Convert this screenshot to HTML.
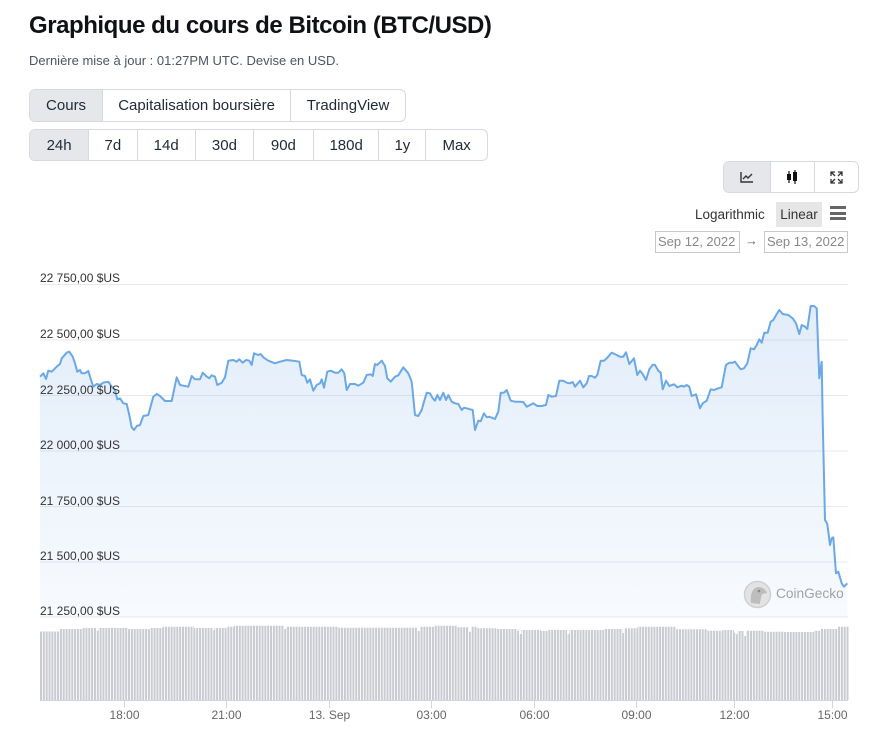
<!DOCTYPE html>
<html><head><meta charset="utf-8"><style>
*{box-sizing:border-box;margin:0;padding:0}
body{width:869px;height:737px;background:#fff;font-family:"Liberation Sans",Arial,sans-serif;position:relative;overflow:hidden;color:#111827}
.abs{position:absolute}
h1{position:absolute;left:29px;top:11px;font-size:24px;font-weight:bold;letter-spacing:-0.45px;color:#0f1115;white-space:nowrap;line-height:30px}
.sub{position:absolute;left:29px;top:52px;font-size:13px;color:#4b5563;white-space:nowrap;line-height:18px}
.grp{position:absolute;border:1px solid #d6d9de;border-radius:6px;overflow:hidden;display:flex;background:#fff}
.grp div{height:100%;display:flex;align-items:center;justify-content:center;font-size:15px;color:#1f2937;border-left:1px solid #d6d9de;white-space:nowrap}
.grp div:first-child{border-left:none}
.grp .on{background:#e5e7eb}
.lbl{position:absolute;font-size:12px;color:#333;white-space:nowrap;line-height:14px}
.tk{position:absolute;font-size:12px;color:#666;white-space:nowrap;line-height:14px;transform:translateX(-50%)}
.date{position:absolute;border:1px solid #c8c8c8;font-size:13px;color:#888;line-height:19px;padding-left:2px;white-space:nowrap}
</style></head><body>
<h1>Graphique du cours de Bitcoin (BTC/USD)</h1>
<div class="sub">Dernière mise à jour : 01:27PM UTC. Devise en USD.</div>

<div class="grp" style="left:29px;top:89px;width:377px;height:33px">
<div class="on" style="width:72.5px">Cours</div>
<div style="width:189px">Capitalisation boursière</div>
<div style="width:115.5px">TradingView</div>
</div>

<div class="grp" style="left:29px;top:129px;width:459px;height:32px">
<div class="on" style="width:58.5px">24h</div>
<div style="width:48.5px">7d</div>
<div style="width:58.5px">14d</div>
<div style="width:58.5px">30d</div>
<div style="width:60px">90d</div>
<div style="width:66px">180d</div>
<div style="width:47px">1y</div>
<div style="width:62px">Max</div>
</div>

<div class="grp" style="left:723px;top:161px;width:136px;height:32px">
<div class="on" style="width:47px"><svg width="14" height="12" viewBox="0 0 14 12"><path d="M1,1 V11 H13" fill="none" stroke="#333" stroke-width="1.4"/><path d="M3,8 L6,5 L8,7 L12,3" fill="none" stroke="#333" stroke-width="1.4"/></svg></div>
<div style="width:44px"><svg width="14" height="16" viewBox="0 0 14 16"><line x1="4" y1="2" x2="4" y2="14" stroke="#111" stroke-width="1.2"/><rect x="2" y="5" width="4" height="6" fill="#111"/><line x1="10" y1="1" x2="10" y2="15" stroke="#111" stroke-width="1.2"/><rect x="8" y="3" width="4" height="9" fill="#111"/></svg></div>
<div style="width:45px"><svg width="13" height="13" viewBox="0 0 13 13" fill="none" stroke="#333" stroke-width="1.3"><path d="M1,5 V1 H5 M1,1 L5,5 M8,1 H12 V5 M12,1 L8,5 M1,8 V12 H5 M1,12 L5,8 M12,8 V12 H8 M12,12 L8,8"/></svg></div>
</div>

<div class="abs" style="left:695px;top:207px;font-size:13.5px;color:#333;line-height:16px">Logarithmic</div>
<div class="abs" style="left:776px;top:202px;width:46px;height:25px;background:#e6e6e6;font-size:13.5px;color:#333;line-height:25px;text-align:center">Linear</div>
<div class="abs" style="left:830px;top:206px;width:16px;height:3px;background:#666"></div>
<div class="abs" style="left:830px;top:211.5px;width:16px;height:3px;background:#666"></div>
<div class="abs" style="left:830px;top:217px;width:16px;height:3px;background:#666"></div>

<div class="date" style="left:655px;top:231px;width:85px;height:22px">Sep 12, 2022</div>
<div class="abs" style="left:745px;top:233px;font-size:13px;color:#666">→</div>
<div class="date" style="left:764px;top:231px;width:84px;height:22px">Sep 13, 2022</div>

<svg class="abs" style="left:0;top:0" width="869" height="737" viewBox="0 0 869 737">
<defs>
<linearGradient id="fg" x1="0" y1="300" x2="0" y2="617" gradientUnits="userSpaceOnUse">
<stop offset="0" stop-color="#6aa3e6" stop-opacity="0.2"/>
<stop offset="1" stop-color="#6aa3e6" stop-opacity="0.05"/>
</linearGradient>
<clipPath id="vc"><path d="M40,700 V631.5 H59.5 V629 H82.5 V628 H96.5 V630.7 H98.5 V628 H127.5 V629 H150.5 V628 H162.5 V626.7 H194 V628 H212.5 V630 H214.5 V628 H227.5 V626.7 H234 V625.7 H284 V629 H286 V626.7 H337.5 V627.7 H417.5 V631 H420 V626.7 H434 V625.7 H457.5 V627.3 H469 V631.7 H471 V626.7 H477.5 V628.3 H497.5 V629 H517.5 V630.7 H519 V634 H521.5 V630 H541 V631 H547.5 V630 H567 V634 H569.5 V630 H604 V629 H622.5 V633 H624 V628.3 H637.5 V626.7 H676 V629.3 H707.5 V630.7 H722.5 V630 H734 V632.7 H736 V634.3 H737.5 V631 H744 V636 H746 V630.7 H764 V631.7 H784 V632 H814 V630.7 H821 V629 H837.5 V626.7 H848.5 V700 Z"/></clipPath>
</defs>
<g stroke="#e9e9ec" stroke-width="1">
<line x1="40" y1="284.5" x2="848" y2="284.5"/>
<line x1="40" y1="340" x2="848" y2="340"/>
<line x1="40" y1="395.5" x2="848" y2="395.5"/>
<line x1="40" y1="451" x2="848" y2="451"/>
<line x1="40" y1="506.5" x2="848" y2="506.5"/>
<line x1="40" y1="562" x2="848" y2="562"/>
<line x1="40" y1="617" x2="848" y2="617"/>
</g>
<polygon fill="url(#fg)" points="40,376.7 43.3,373.3 46,379 48.3,370.7 51.7,371.7 56.7,366.7 60,364 61.7,358.3 66.7,352.7 69.3,351.7 72.7,356.7 75,363.3 77.3,371.7 80,370 81.7,373.3 85,373.3 88.3,371 90,376.7 93.3,386.7 96.7,384 100,385 103.3,382.7 108.3,381.7 111.7,386.7 115,390 117.3,399.3 120,398.3 123.3,403.3 126.7,404 129.3,415 131.7,427.3 134,430 136.7,426 140,425 143.3,416 148.3,415 153.3,396.7 156.7,394 160,396 165,401 171.7,401 176.7,377.3 180,385 183.3,385.7 188.3,386.7 191.7,376 195,379.3 200,379.3 202.7,372.7 206,376 209.3,378.3 211.7,375.3 215,376.7 217.3,385 221.7,382.7 225,377.3 228.3,360.7 233.3,360 236.7,361.7 239.3,359.3 242.7,362.7 246,360 249.3,360.7 251.7,365 254,353.3 258.3,355 260.7,354 263.3,357.3 268.3,360.7 275,363.3 280,361.7 286.7,360 293.3,360.7 299.3,361.7 301.7,375 305,376 307.3,382.7 310,379.3 313.3,390.7 316.7,385 320,383.3 321.7,379.3 324,387.7 327.3,371.7 330.7,370.7 335,372.7 338.3,372.7 341.7,369.3 344.3,373.3 346.7,390 350,384 355,384 358.3,385.7 363.3,382.7 366.7,375 370.7,374.3 372.7,376 375,364 377.3,365 381.7,360.7 385,366 387.3,378.3 390.7,381.7 395,376.7 398.3,375.3 403.3,367.3 408.3,373.3 411.7,381.7 415,415 418.3,416 421.7,410 424,401.7 426.7,392.7 430,393.3 432.7,398.3 435,400.7 437.3,395 440,400 443.3,392.7 446,400 448.3,395 451.7,401.7 455,403.3 458.3,404 461.7,410 464,407.7 466.7,408.3 470,409.3 472.7,410 475,430 478.3,420.7 480.7,421.3 484,413.3 486.7,417.3 489.3,416.7 495,419 498.3,411.7 500.7,392.7 504,392.7 506.7,390 510.7,400.7 515,401.7 520,401.7 523.3,402 526.7,406.7 530,405 533.3,403.3 537.3,406 541.7,406 546,405 548.3,395 551.7,396.7 556,396 559.3,380.7 563.3,380.7 566.7,382.7 570,383.3 572.7,382 575,386.7 580,380.7 583.3,387.3 586.7,383.3 589,376 591.7,376 595,377.7 597.3,375 600.7,360.7 604,360.7 606.7,358.3 611.7,352.7 616.7,355 620,356.7 623.3,356.7 626,352.3 629.3,364 634,358.3 637.3,375 640,370.7 642.7,374 646,380 649.3,369.3 652.7,364.7 655,365 658.3,370.7 660.7,372.7 662.7,389.3 666,380.7 669.3,386 674,384.3 677.3,387.3 681.7,385.7 684,386.7 686.7,385 689.3,386.7 691.7,396 696,394.3 700,408.3 702.7,403.3 706.7,400.7 710.7,389.3 714,390 718.3,388.3 721.7,387.3 724,375 726,365 729.3,362.7 732.7,362.7 735,361.7 737.3,365 740.7,369.3 744,368.3 747.3,363.3 750.7,348.3 754,349.3 756.7,345 759.3,339.3 761.7,342.7 764.3,332.7 767.7,332.7 770.7,321.7 773.3,320 776.7,314 779.3,310 782.7,314 788.3,315 792.7,318.3 796,323.3 799.3,334 801.7,325 805,326.7 807.3,329 810.7,306 814,306 816.7,308.3 819.3,378.3 821.7,361.7 822.7,420 825,520 827.3,524 830,545 831.7,538.3 833.3,537.3 836,573.3 838.3,571.7 841.7,583.3 844,586.7 847.3,583.3 847.3,617 40,617"/>
<polyline fill="none" stroke="#6aa8e8" stroke-width="2" stroke-linejoin="round" points="40,376.7 43.3,373.3 46,379 48.3,370.7 51.7,371.7 56.7,366.7 60,364 61.7,358.3 66.7,352.7 69.3,351.7 72.7,356.7 75,363.3 77.3,371.7 80,370 81.7,373.3 85,373.3 88.3,371 90,376.7 93.3,386.7 96.7,384 100,385 103.3,382.7 108.3,381.7 111.7,386.7 115,390 117.3,399.3 120,398.3 123.3,403.3 126.7,404 129.3,415 131.7,427.3 134,430 136.7,426 140,425 143.3,416 148.3,415 153.3,396.7 156.7,394 160,396 165,401 171.7,401 176.7,377.3 180,385 183.3,385.7 188.3,386.7 191.7,376 195,379.3 200,379.3 202.7,372.7 206,376 209.3,378.3 211.7,375.3 215,376.7 217.3,385 221.7,382.7 225,377.3 228.3,360.7 233.3,360 236.7,361.7 239.3,359.3 242.7,362.7 246,360 249.3,360.7 251.7,365 254,353.3 258.3,355 260.7,354 263.3,357.3 268.3,360.7 275,363.3 280,361.7 286.7,360 293.3,360.7 299.3,361.7 301.7,375 305,376 307.3,382.7 310,379.3 313.3,390.7 316.7,385 320,383.3 321.7,379.3 324,387.7 327.3,371.7 330.7,370.7 335,372.7 338.3,372.7 341.7,369.3 344.3,373.3 346.7,390 350,384 355,384 358.3,385.7 363.3,382.7 366.7,375 370.7,374.3 372.7,376 375,364 377.3,365 381.7,360.7 385,366 387.3,378.3 390.7,381.7 395,376.7 398.3,375.3 403.3,367.3 408.3,373.3 411.7,381.7 415,415 418.3,416 421.7,410 424,401.7 426.7,392.7 430,393.3 432.7,398.3 435,400.7 437.3,395 440,400 443.3,392.7 446,400 448.3,395 451.7,401.7 455,403.3 458.3,404 461.7,410 464,407.7 466.7,408.3 470,409.3 472.7,410 475,430 478.3,420.7 480.7,421.3 484,413.3 486.7,417.3 489.3,416.7 495,419 498.3,411.7 500.7,392.7 504,392.7 506.7,390 510.7,400.7 515,401.7 520,401.7 523.3,402 526.7,406.7 530,405 533.3,403.3 537.3,406 541.7,406 546,405 548.3,395 551.7,396.7 556,396 559.3,380.7 563.3,380.7 566.7,382.7 570,383.3 572.7,382 575,386.7 580,380.7 583.3,387.3 586.7,383.3 589,376 591.7,376 595,377.7 597.3,375 600.7,360.7 604,360.7 606.7,358.3 611.7,352.7 616.7,355 620,356.7 623.3,356.7 626,352.3 629.3,364 634,358.3 637.3,375 640,370.7 642.7,374 646,380 649.3,369.3 652.7,364.7 655,365 658.3,370.7 660.7,372.7 662.7,389.3 666,380.7 669.3,386 674,384.3 677.3,387.3 681.7,385.7 684,386.7 686.7,385 689.3,386.7 691.7,396 696,394.3 700,408.3 702.7,403.3 706.7,400.7 710.7,389.3 714,390 718.3,388.3 721.7,387.3 724,375 726,365 729.3,362.7 732.7,362.7 735,361.7 737.3,365 740.7,369.3 744,368.3 747.3,363.3 750.7,348.3 754,349.3 756.7,345 759.3,339.3 761.7,342.7 764.3,332.7 767.7,332.7 770.7,321.7 773.3,320 776.7,314 779.3,310 782.7,314 788.3,315 792.7,318.3 796,323.3 799.3,334 801.7,325 805,326.7 807.3,329 810.7,306 814,306 816.7,308.3 819.3,378.3 821.7,361.7 822.7,420 825,520 827.3,524 830,545 831.7,538.3 833.3,537.3 836,573.3 838.3,571.7 841.7,583.3 844,586.7 847.3,583.3"/>
<line x1="40" y1="663" x2="849" y2="663" stroke="#c9cbd1" stroke-width="78" stroke-dasharray="2 0.84" clip-path="url(#vc)"/>
<line x1="40" y1="700.5" x2="848" y2="700.5" stroke="#ccd6eb" stroke-width="1"/>
<g stroke="#ccd6eb" stroke-width="1">
<line x1="124.5" y1="700" x2="124.5" y2="708"/>
<line x1="226.5" y1="700" x2="226.5" y2="708"/>
<line x1="329.5" y1="700" x2="329.5" y2="708"/>
<line x1="431.5" y1="700" x2="431.5" y2="708"/>
<line x1="534.5" y1="700" x2="534.5" y2="708"/>
<line x1="636.5" y1="700" x2="636.5" y2="708"/>
<line x1="734.5" y1="700" x2="734.5" y2="708"/>
<line x1="832.5" y1="700" x2="832.5" y2="708"/>
</g>
<circle cx="757.5" cy="594.5" r="13" fill="#e3e3e3" stroke="#d0d0d0" stroke-width="1.5"/>
<path d="M751,603 C750,595 752,588 758,587 C763,587 766,590 767,593 L762,594 C761,598 760,601 760,604 Z" fill="#bdbdbd"/>
<circle cx="759" cy="591" r="1.3" fill="#888"/>
</svg>

<div class="abs" style="left:776px;top:585px;font-size:13.7px;color:#a3a3a3;line-height:18px">CoinGecko</div>

<div class="lbl" style="left:40px;top:271px">22 750,00 $US</div>
<div class="lbl" style="left:40px;top:327px">22 500,00 $US</div>
<div class="lbl" style="left:40px;top:383px">22 250,00 $US</div>
<div class="lbl" style="left:40px;top:438px">22 000,00 $US</div>
<div class="lbl" style="left:40px;top:494px">21 750,00 $US</div>
<div class="lbl" style="left:40px;top:549px">21 500,00 $US</div>
<div class="lbl" style="left:40px;top:604px">21 250,00 $US</div>

<div class="tk" style="left:124.5px;top:708px">18:00</div>
<div class="tk" style="left:226.5px;top:708px">21:00</div>
<div class="tk" style="left:329.5px;top:708px">13. Sep</div>
<div class="tk" style="left:431.5px;top:708px">03:00</div>
<div class="tk" style="left:534.5px;top:708px">06:00</div>
<div class="tk" style="left:636.5px;top:708px">09:00</div>
<div class="tk" style="left:734.5px;top:708px">12:00</div>
<div class="tk" style="left:832.5px;top:708px">15:00</div>
</body></html>
